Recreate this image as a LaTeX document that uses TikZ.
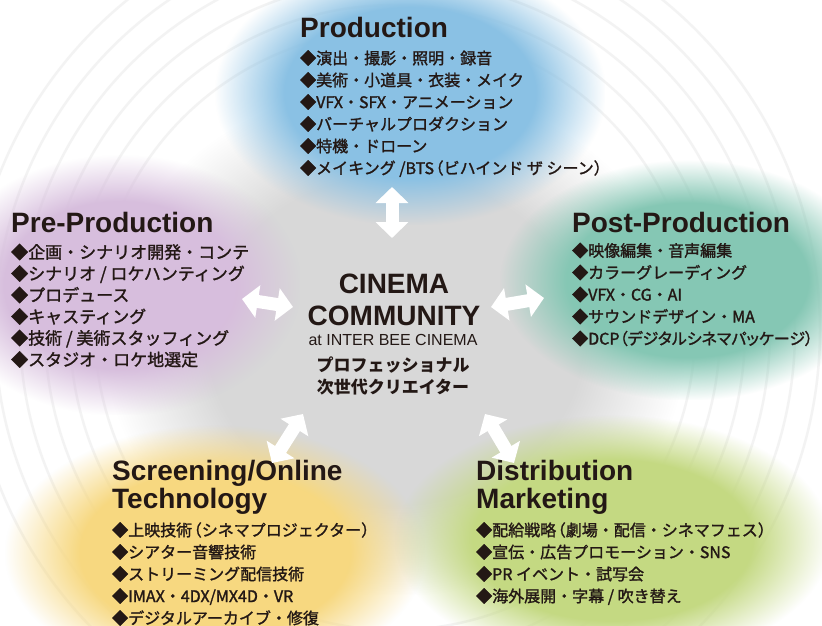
\documentclass[tikz,border=0pt]{standalone}
\usepackage{fontspec}
\setmainfont{Liberation Sans}
\newfontfamily\jp{Noto Sans CJK JP}[FakeBold=1.5]
\newfontfamily\jpb{Noto Sans CJK JP}
\newfontfamily\hd{Liberation Sans}
\usetikzlibrary{arrows.meta,fadings}
\pgfdeclareradialshading{softshade}{\pgfpointorigin}{color(0bp)=(white); color(16bp)=(white); color(25bp)=(black); color(50bp)=(black)}
\pgfdeclarefading{soft}{\pgfuseshading{softshade}}
\definecolor{ink}{RGB}{35,24,21}
\definecolor{cblue}{RGB}{138,193,228}
\definecolor{cpurple}{RGB}{215,190,221}
\definecolor{cteal}{RGB}{133,199,180}
\definecolor{cyellow}{RGB}{247,216,128}
\definecolor{cgreen}{RGB}{196,217,130}
\definecolor{cgray}{RGB}{216,216,216}
\newcommand{\lpar}{\kern-0.4em（}
\newcommand{\rpar}{）\kern-0.4em}
\newcommand{\prop}[1]{{\addfontfeature{RawFeature=+palt}#1}}
\begin{document}
\begin{tikzpicture}[x=1pt,y=-1pt,
  blob/.style={path fading=soft},
  swirl/.style={draw=black!8, line width=2.5pt, opacity=0.6},
  head/.style={font=\hd\bfseries\fontsize{28}{28}\selectfont, anchor=base west, inner sep=0pt, text=ink},
  ctitle/.style={font=\hd\bfseries\fontsize{28}{28}\selectfont, anchor=base, inner sep=0pt, text=ink},
  item/.style={font=\jp\fontsize{16}{16}\selectfont, anchor=west, inner sep=0pt, text height=14.08pt, text depth=1.92pt, text=ink},
  itembig/.style={font=\jp\fontsize{17}{17}\selectfont, anchor=west, inner sep=0pt, text height=14.96pt, text depth=2.04pt, text=ink},
  cjp/.style={font=\jpb\bfseries\fontsize{17}{17}\selectfont, anchor=center, inner sep=0pt, text height=14.96pt, text depth=2.04pt, text=ink},
  bigarrow/.style={draw=white, line width=13pt, {Triangle[length=16pt 0,width=32pt 0]}-{Triangle[length=16pt 0,width=32pt 0]}}]
\useasboundingbox (0,0) rectangle (822,625);
\fill[white] (0,0) rectangle (822,625);
% background swirls
\foreach \r in {300,325,350,375,400,425}
  \draw[swirl] (395,330) circle[radius=\r];
% central gray area
\fill[cgray, blob] (105,85) rectangle (685,595);
% coloured blobs
\fill[cblue, blob] (215,-40) rectangle (605,225);
\fill[cpurple, blob] (-60,155) rectangle (300,415);
\fill[cteal, blob] (500,160) rectangle (875,400);
\fill[cyellow, blob] (5,425) rectangle (425,680);
\fill[cgreen, blob] (395,415) rectangle (830,665);
% Production
\node[head, name=prodT] at (300,37) {Production};
\foreach \t [count=\i] in {演出・撮影・照明・録音, 美術・小道具・衣装・メイク, VFX・SFX・アニメーション, バーチャルプロダクション, 特機・ドローン, メイキング /BTS\lpar ビハインド ザ シーン\rpar}
  \node[item, name=prod\i] at (300,36+22*\i) {◆\t};
% Pre-Production
\node[head, name=preT] at (11,232) {Pre-Production};
\foreach \t [count=\i] in {企画・シナリオ開発・コンテ, シナリオ / ロケハンティング, プロデュース, キャスティング, 技術 / 美術スタッフィング, スタジオ・ロケ地選定}
  \node[itembig, name=pre\i] at (11,230.5+21.5*\i) {◆\t};
% Post-Production
\node[head, name=postT] at (572,232) {Post-Production};
\foreach \t [count=\i] in {映像編集・音声編集, カラーグレーディング, VFX・CG・AI, サウンドデザイン・MA}
  \node[item, name=post\i] at (572,228.5+22*\i) {◆\t};
\node[item, name=post5] at (572,338.5) {◆DCP\prop{（デジタルシネマパッケージ）}};
% Screening
\node[head, name=scrT] at (112,480) {Screening/Online};
\node[head, name=scrT2] at (112,508) {Technology};
\foreach \t [count=\i] in {上映技術\lpar シネマプロジェクター\rpar, シアター音響技術, ストリーミング配信技術, IMAX・4DX/MX4D・VR, デジタルアーカイブ・修復}
  \node[item, name=scr\i] at (112,508+22*\i) {◆\t};
% Distribution
\node[head, name=disT] at (476,480) {Distribution};
\node[head, name=disT2] at (476,508) {Marketing};
\foreach \t [count=\i] in {配給戦略\lpar 劇場・配信・シネマフェス\rpar, 宣伝・広告プロモーション・SNS, PR イベント・試写会, 海外展開・字幕 / 吹き替え}
  \node[item, name=dis\i] at (476,508+22*\i) {◆\t};
% Centre
\node[ctitle, name=cin1] at (394,293) {CINEMA};
\node[ctitle, name=cin2] at (394,325) {COMMUNITY};
\node[font=\hd\fontsize{16}{16}\selectfont, anchor=base, inner sep=0pt, text=ink, name=cin3] at (393,345) {at INTER BEE CINEMA};
\node[cjp, name=cin4] at (393,365) {プロフェッショナル};
\node[cjp, name=cin5] at (393,387) {次世代クリエイター};
% arrows
\coordinate (aT1) at (392,187);
\coordinate (aT2) at (392,238);
\coordinate (aL1) at (242,299);
\coordinate (aL2) at (293,307);
\coordinate (aR1) at (491,307);
\coordinate (aR2) at (544,298);
\coordinate (aBL1) at (303,414);
\coordinate (aBL2) at (272,463);
\coordinate (aBR1) at (485,414);
\coordinate (aBR2) at (514,463);
\draw[bigarrow] (aT1) -- (aT2);
\draw[bigarrow] (aL1) -- (aL2);
\draw[bigarrow] (aR1) -- (aR2);
\draw[bigarrow] (aBL1) -- (aBL2);
\draw[bigarrow] (aBR1) -- (aBR2);
\end{tikzpicture}
\end{document}
